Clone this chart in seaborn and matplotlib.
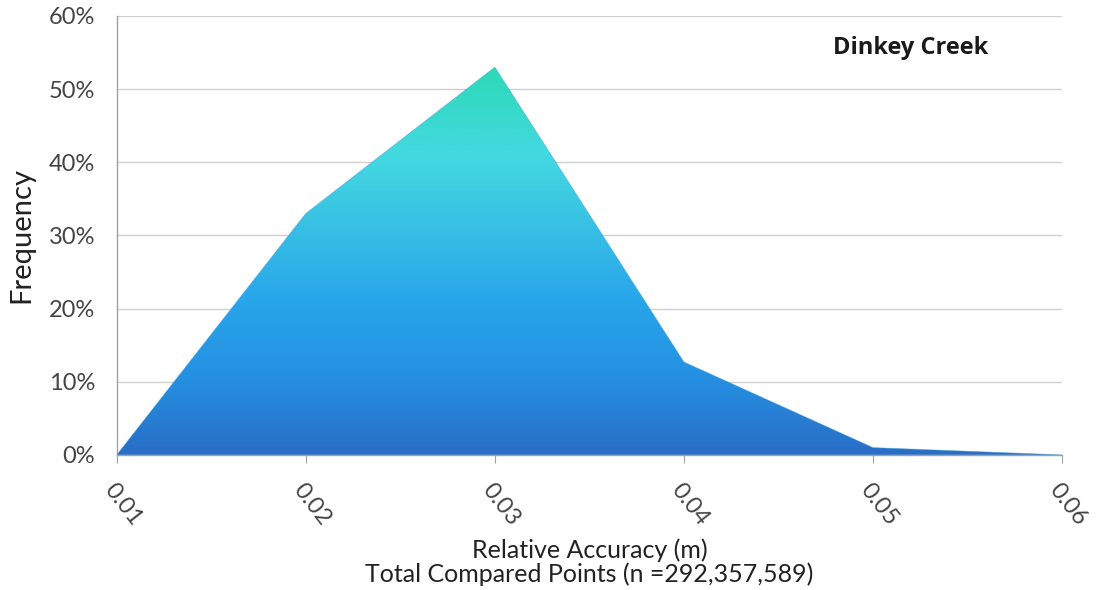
import numpy as np
import pandas as pd
import matplotlib
matplotlib.use("Agg")
import matplotlib.pyplot as plt
from matplotlib.colors import LinearSegmentedColormap
from matplotlib.ticker import PercentFormatter
import seaborn as sns

accuracy = [0.01, 0.02, 0.03, 0.04, 0.05, 0.06]
frequency = [0.0, 0.33, 0.53, 0.127, 0.01, 0.0]
tick_labels = ["0.01", "0.02", "0.03", "0.04", "0.05", "0.06"]

df = pd.DataFrame({"accuracy": accuracy, "frequency": frequency})

sns.set_style("white")
plt.rcParams["font.family"] = ["Lato", "DejaVu Sans"]

fig = plt.figure(figsize=(11.12, 5.90), dpi=100)
ax = fig.add_axes([0.105, 0.229, 0.85, 0.744])

# gradient fill clipped to the area under the curve
cmap = LinearSegmentedColormap.from_list(
    "grad",
    [(0.0, "#2a6dc6"), (0.2, "#2590e2"), (0.4, "#28a6ea"),
     (0.6, "#38c2e4"), (0.78, "#43d9e0"), (1.0, "#2dd9b6")])
top = max(frequency)
grad = np.linspace(0, 1, 256).reshape(-1, 1)
img = ax.imshow(grad, cmap=cmap, origin="lower", aspect="auto",
                extent=[accuracy[0], accuracy[-1], 0, top], zorder=2)
poly = ax.fill_between(df["accuracy"], df["frequency"], 0, color="none")
img.set_clip_path(poly.get_paths()[0], transform=ax.transData)

sns.lineplot(data=df, x="accuracy", y="frequency", ax=ax,
             color="#3aa0e0", linewidth=0.6, alpha=0.5, zorder=3)

ax.set_xlim(accuracy[0], accuracy[-1])
ax.set_ylim(0, 0.6)
ax.set_yticks(np.arange(0, 0.61, 0.1))
ax.yaxis.set_major_formatter(PercentFormatter(1.0, decimals=0))
ax.set_xticks(accuracy)
ax.set_xticklabels(tick_labels, rotation=-52, ha="left", va="top",
                   rotation_mode="anchor")
ax.grid(axis="y", color="#d0d0d0", linewidth=1.0, zorder=0)
ax.set_axisbelow(True)

for side in ["top", "right"]:
    ax.spines[side].set_visible(False)
for side in ["left", "bottom"]:
    ax.spines[side].set_color("#a0a0a0")
    ax.spines[side].set_linewidth(1.0)

ax.tick_params(axis="x", bottom=True, length=6, color="#a0a0a0",
               labelsize=17, labelcolor="#444444", pad=12)
ax.tick_params(axis="y", left=False, labelsize=17, labelcolor="#444444", pad=12)

ax.set_ylabel("Frequency", fontsize=21, color="#222222", labelpad=10)
ax.set_xlabel("Relative Accuracy (m)\nTotal Compared Points (n =292,357,589)",
              fontsize=18, color="#222222", labelpad=6, linespacing=1.05)

ax.text(0.84, 0.927, "Dinkey Creek", transform=ax.transAxes,
        fontsize=17, fontweight="bold", family="Open Sans",
        color="#1a1a1a", ha="center", va="center")

fig.savefig("out.png", dpi=100)
